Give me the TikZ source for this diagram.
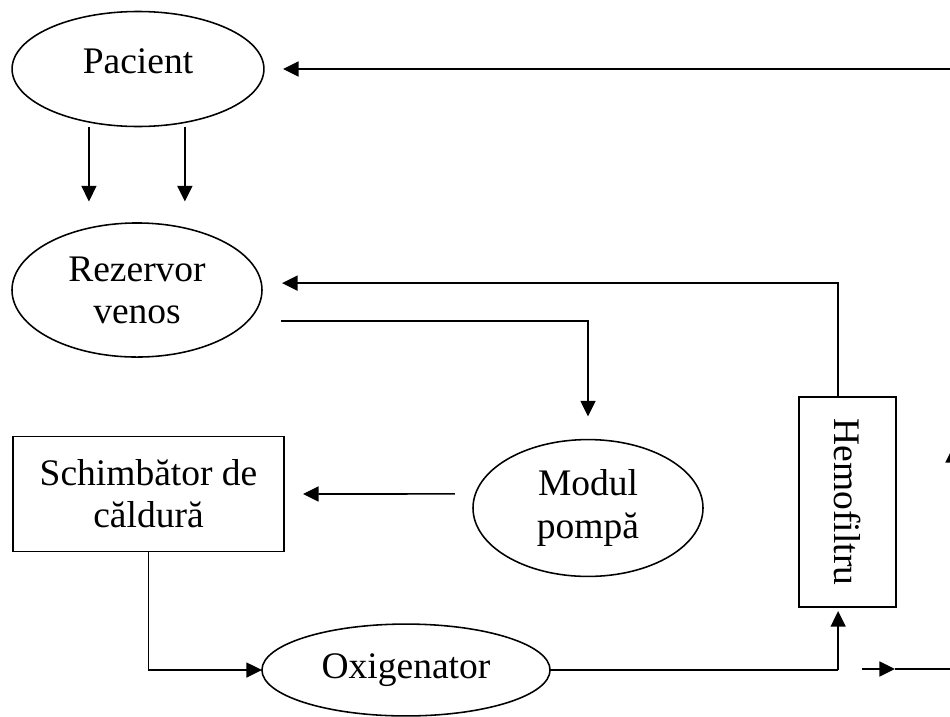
\documentclass[tikz,border=0pt]{standalone}
\usepackage{fontspec}
\setmainfont{Liberation Serif}
\usepackage{graphicx}
\usetikzlibrary{shapes.geometric,arrows.meta}

\begin{document}
\begin{tikzpicture}[x=0.32pt,y=-0.32pt,
    line width=0.5pt,
    font=\fontsize{12}{13.5}\selectfont,
    arr/.style={-{Triangle[length=5pt,width=4.8pt]}},
    elips/.style={draw,ellipse,inner sep=0pt,outer sep=0pt,align=center},
    blok/.style={draw,rectangle,inner sep=0pt,outer sep=0pt,align=center}]
        % Frame
        \useasboundingbox (0,0) rectangle (950,716);
        \clip (0,0) rectangle (950,716);

        % Blocks
        \node[elips,minimum width=80.6pt,minimum height=36.8pt,text depth=5pt] (pac) at (138,69) {Pacient};
        \node[elips,minimum width=80pt,minimum height=42.9pt] (rez) at (137,290) {Rezervor\\venos};
        \node[elips,minimum width=73.6pt,minimum height=43.8pt] (mod) at (588,508) {Modul\\pompă};
        \node[blok,minimum width=86.7pt,minimum height=36.8pt] (sch) at (148.5,494) {Schimbător de\\căldură};
        \node[elips,minimum width=92.2pt,minimum height=29.4pt] (oxi) at (406,670) {Oxigenator};
        \node[blok,minimum width=31pt,minimum height=67.2pt] (hemo) at (847.5,502) {\rotatebox{-90}{Hemofiltru}};

        % Flow
        \draw[arr] ([xshift=-15.7pt]pac.south) -- ++(0,75);
        \draw[arr] ([xshift=15pt]pac.south) -- ++(0,75);
        \draw[arr] ([shift={(6.1pt,-9.9pt)}]rez.east) -| ([yshift=7.4pt]mod.north);
        \draw[arr] ([xshift=-3pt]hemo.north) |- ([shift={(6.4pt,2.2pt)}]rez.east);
        \draw[arr] ([shift={(-5.8pt,4.5pt)}]mod.west) -- ([xshift=6.1pt]sch.east);
        \draw[arr] (sch.south) |- (oxi.west);
        \path ([xshift=-3pt]hemo.south) coordinate (hs);
        \coordinate (split) at (hs |- oxi.east);
        \draw (oxi.east) -- (split);
        \draw[arr] (split) -- ([shift={(-3pt,-1.3pt)}]hemo.south);

        % Return line (runs off the right edge)
        \coordinate (r0) at (862,669);
        \coordinate (r1) at (895,669);
        \coordinate (r2) at (953,669);
        \coordinate (r3) at (953,447);
        \coordinate (r4) at (953,69);
        \draw[arr] (r0) -- (r1);
        \draw (r1) -- (r2);
        \draw[arr] (r2) -- (r3);
        \draw (r3) -- (r4);
        \draw[arr] (r4) -- ([xshift=6.1pt]pac.east);
      \end{tikzpicture}
\end{document}
